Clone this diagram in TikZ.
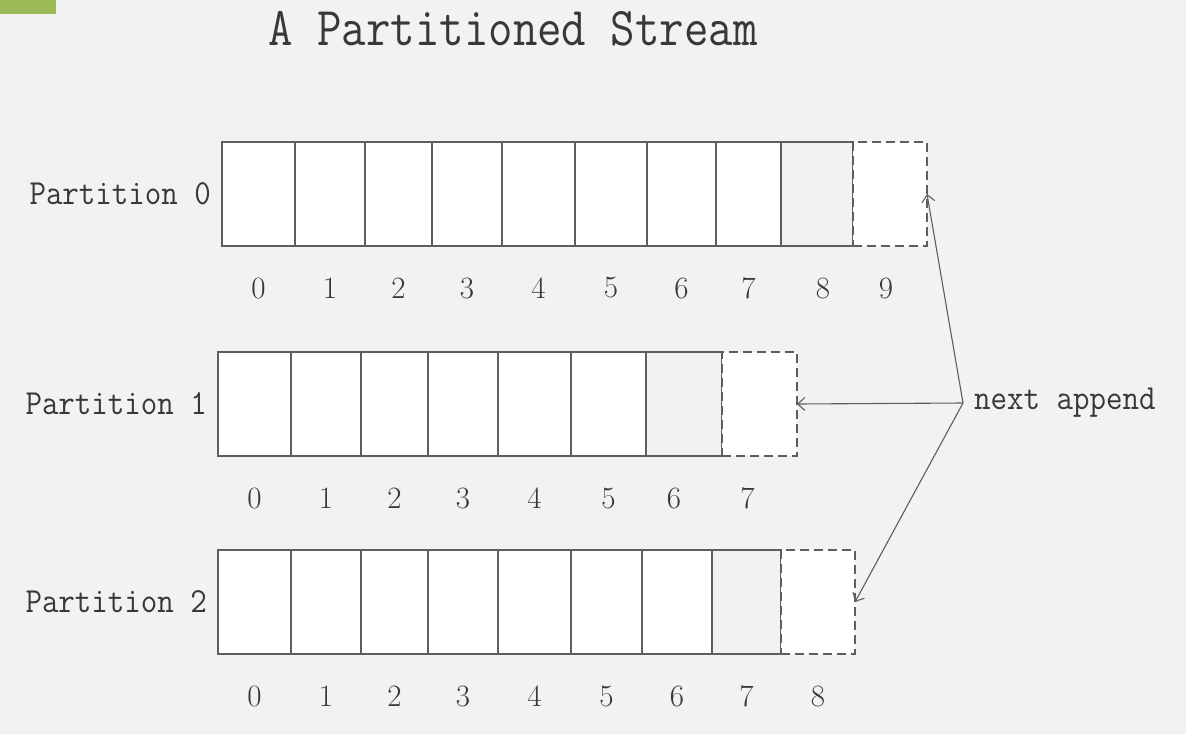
\documentclass[tikz,border=0pt]{standalone}
\usepackage{fontspec}
\usetikzlibrary{positioning, arrows.meta}
\definecolor{slidebg}{HTML}{F2F2F2}
\definecolor{bargreen}{HTML}{9BBB59}
\definecolor{edgegray}{HTML}{5E5E5E}
\definecolor{inkgray}{HTML}{383838}
\tikzset{
  cell/.style={draw=edgegray, line width=1.4pt, fill=white, anchor=north west,
    minimum height=104pt, inner sep=0pt, outer sep=0pt},
  lastcell/.style={cell, fill=none},
  nextcell/.style={cell, dash pattern=on 9pt off 5pt, line width=1.8pt},
  idx/.style={text=inkgray, font=\fontsize{31}{31}\selectfont},
  rowlbl/.style={text=inkgray, font=\ttfamily\fontsize{32}{32}\selectfont,
    inner sep=1pt, yscale=1.1},
  pointer/.style={draw=edgegray, line width=1.1pt,
    -{Straight Barb[length=7pt, width=13pt]}},
}
\begin{document}
\begin{tikzpicture}[x=1pt, y=-1pt]
    % Slide background
    \fill[slidebg] (0,0) rectangle (1186,734);
    \useasboundingbox (0,0) rectangle (1186,734);
    \fill[bargreen] (0,0) rectangle (56,14);

    % Title
    \node[text=inkgray, font=\ttfamily\fontsize{47.5}{48}\selectfont, yscale=1.15]
        (title) at (513,29) {A Partitioned Stream};

    % Partition 0
    \foreach \x [remember=\x as \lastx (initially 222), count=\i from 0] in {295,365,432,502,575,647,716,781} {
        \node[cell, minimum width={\x-\lastx}] (p0c\i) at (\lastx,142) {};
        \node[idx, below=28pt of p0c\i] (p0n\i) {\i};
    }
    \node[lastcell, minimum width=72pt] (p0c8) at (781,142) {};
    \node[idx, below=28pt of p0c8, xshift=6pt] (p0n8) {8};
    \node[nextcell, minimum width=74pt] (p0c9) at (853,142) {};
    \node[idx, below=28pt of p0c9, xshift=-4pt] (p0n9) {9};
    \node[rowlbl, left=10pt of p0c0] (p0lbl) {Partition 0};

    % Partition 1
    \foreach \x [remember=\x as \lastx (initially 218), count=\i from 0] in {291,361,428,498,571,646} {
        \node[cell, minimum width={\x-\lastx}] (p1c\i) at (\lastx,352) {};
        \node[idx, below=28pt of p1c\i] (p1n\i) {\i};
    }
    \node[lastcell, minimum width=76pt] (p1c6) at (646,352) {};
    \node[idx, below=28pt of p1c6, xshift=-10pt] (p1n6) {6};
    \node[nextcell, minimum width=75pt] (p1c7) at (722,352) {};
    \node[idx, below=28pt of p1c7, xshift=-12pt] (p1n7) {7};
    \node[rowlbl, left=10pt of p1c0] (p1lbl) {Partition 1};

    % Partition 2
    \foreach \x [remember=\x as \lastx (initially 218), count=\i from 0] in {291,361,428,498,571,642,712} {
        \node[cell, minimum width={\x-\lastx}] (p2c\i) at (\lastx,550) {};
        \node[idx, below=28pt of p2c\i] (p2n\i) {\i};
    }
    \node[lastcell, minimum width=69pt] (p2c7) at (712,550) {};
    \node[idx, below=28pt of p2c7] (p2n7) {7};
    \node[nextcell, minimum width=74pt] (p2c8) at (781,550) {};
    \node[idx, below=28pt of p2c8] (p2n8) {8};
    \node[rowlbl, left=10pt of p2c0] (p2lbl) {Partition 2};

    % Next append pointers
    \coordinate (fork) at (963,403);
    \node[rowlbl, anchor=west] (nextlbl) at (973,403) {next append};
    \draw[pointer] (fork) -- (p0c9.east);
    \draw[pointer] (fork) -- (p1c7.east);
    \draw[pointer] (fork) -- (p2c8.east);
\end{tikzpicture}
\end{document}
